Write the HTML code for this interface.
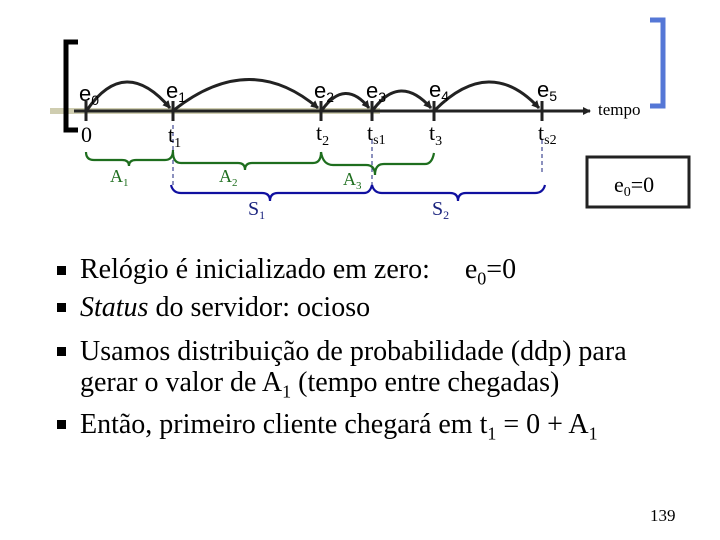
<!DOCTYPE html>
<html><head><style>
body{margin:0;width:720px;height:540px;background:#fff;position:relative;overflow:hidden;font-family:"Liberation Serif",serif}
.t{position:absolute;font-size:28px;color:#000;left:80px;line-height:31px;white-space:nowrap}
.b{position:absolute;left:57px;width:9px;height:9px;background:#000}
sub{font-size:18px}
</style></head><body>
<svg width="720" height="540" style="position:absolute;left:0;top:0" font-family="Liberation Serif, serif">
<defs><marker id="a" markerWidth="8" markerHeight="8" refX="7" refY="4" orient="auto" markerUnits="userSpaceOnUse"><path d="M0,0L8,4L0,8z" fill="#222"/></marker></defs>
<rect x="50" y="108" width="330" height="6" fill="#cfcdb0"/>
<path d="M78,42H66V130H78" fill="none" stroke="#000" stroke-width="5"/>
<path d="M650,20H663V106H650" fill="none" stroke="#5577d6" stroke-width="5"/>
<line x1="74" y1="111" x2="590" y2="111" stroke="#222" stroke-width="3" marker-end="url(#a)"/>
<g stroke="#222" stroke-width="3">
<line x1="86" y1="101" x2="86" y2="121"/><line x1="173" y1="101" x2="173" y2="121"/>
<line x1="321" y1="101" x2="321" y2="121"/><line x1="372" y1="101" x2="372" y2="121"/>
<line x1="434" y1="101" x2="434" y2="121"/><line x1="542" y1="101" x2="542" y2="121"/>
</g>
<g fill="none" stroke="#222" stroke-width="3">
<path d="M87,110Q125,55 170,108" marker-end="url(#a)"/>
<path d="M174,110Q250,50 318,108" marker-end="url(#a)"/>
<path d="M322,110Q345,78 369,108" marker-end="url(#a)"/>
<path d="M373,110Q400,73 431,108" marker-end="url(#a)"/>
<path d="M435,110Q490,55 539,108" marker-end="url(#a)"/>
</g>
<g stroke="#1a237e" stroke-dasharray="4,3" stroke-width="1">
<line x1="173" y1="125" x2="173" y2="185"/><line x1="372" y1="140" x2="372" y2="185"/><line x1="542" y1="140" x2="542" y2="172"/>
</g>
<g fill="none" stroke="#1e6e1e" stroke-width="2.2">
<path d="M86,152Q86,160 94,160H122Q129,160 129,166Q129,160 136,160H165Q173,160 173,150"/>
<path d="M173,152Q173,163 181,163H238Q245,163 245,170Q245,163 252,163H313Q321,163 321,152"/>
<path d="M321,152Q323,165 333,165H366Q375,165 375,175Q375,164 384,164H425Q432,164 434,153"/>
</g>
<g fill="none" stroke="#1010a0" stroke-width="2.2">
<path d="M171,185Q173,193 181,193H262Q270,193 270,201Q270,193 278,193H364Q370,193 372,185"/>
<path d="M372,185Q374,193 382,193H450Q458,193 458,201Q458,193 466,193H535Q543,193 545,185"/>
</g>
<rect x="587" y="157" width="102" height="50" fill="none" stroke="#222" stroke-width="3"/>
<g font-size="22" fill="#000">
<text x="79" y="101" font-family="Liberation Sans, sans-serif">e<tspan font-size="14" dy="4">0</tspan></text>
<text x="166" y="98" font-family="Liberation Sans, sans-serif">e<tspan font-size="14" dy="4">1</tspan></text>
<text x="314" y="98" font-family="Liberation Sans, sans-serif">e<tspan font-size="14" dy="4">2</tspan></text>
<text x="366" y="98" font-family="Liberation Sans, sans-serif">e<tspan font-size="14" dy="4">3</tspan></text>
<text x="429" y="97" font-family="Liberation Sans, sans-serif">e<tspan font-size="14" dy="4">4</tspan></text>
<text x="537" y="97" font-family="Liberation Sans, sans-serif">e<tspan font-size="14" dy="4">5</tspan></text>
<text x="81" y="142">0</text>
<text x="168" y="142">t<tspan font-size="14" dy="5">1</tspan></text>
<text x="316" y="140">t<tspan font-size="14" dy="5">2</tspan></text>
<text x="367" y="140">t<tspan font-size="14" dy="4">s1</tspan></text>
<text x="429" y="140">t<tspan font-size="14" dy="5">3</tspan></text>
<text x="538" y="140">t<tspan font-size="14" dy="4">s2</tspan></text>
<text x="614" y="192">e<tspan font-size="14" dy="4">0</tspan><tspan dy="-4">=0</tspan></text>
</g>
<text x="598" y="115" font-size="17">tempo</text>
<g font-size="18" fill="#1e6e1e">
<text x="110" y="182">A<tspan font-size="11" dy="4">1</tspan></text>
<text x="219" y="182">A<tspan font-size="11" dy="4">2</tspan></text>
<text x="343" y="185">A<tspan font-size="11" dy="4">3</tspan></text>
</g>
<g font-size="20" fill="#1a237e">
<text x="248" y="215">S<tspan font-size="12" dy="4">1</tspan></text>
<text x="432" y="215">S<tspan font-size="12" dy="4">2</tspan></text>
</g>
<text x="650" y="521" font-size="17">139</text>
</svg>
<div class="b" style="top:266px"></div><div class="t" style="top:254px">Relógio é inicializado em zero:&nbsp;&nbsp;&nbsp;&nbsp; e<sub>0</sub>=0</div>
<div class="b" style="top:303px"></div><div class="t" style="top:292px"><i>Status</i> do servidor: ocioso</div>
<div class="b" style="top:347px"></div><div class="t" style="top:336px">Usamos distribuição de probabilidade (ddp) para<br>gerar o valor de A<sub>1</sub> (tempo entre chegadas)</div>
<div class="b" style="top:420px"></div><div class="t" style="top:409px">Então, primeiro cliente chegará em t<sub>1</sub> = 0 + A<sub>1</sub></div>
</body></html>
